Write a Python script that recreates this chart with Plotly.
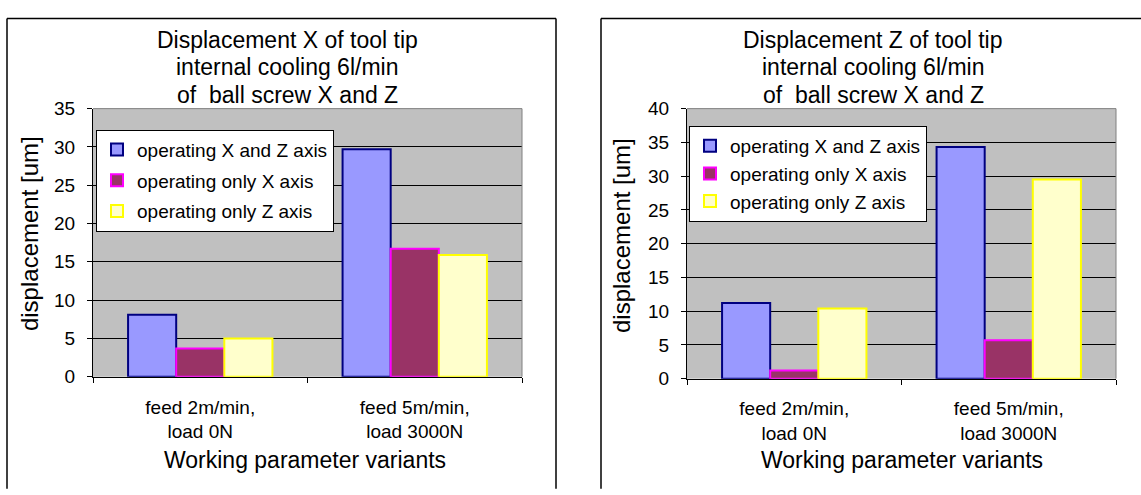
import plotly.graph_objects as go

categories = ["feed 2m/min,<br>load 0N", "feed 5m/min,<br>load 3000N"]
series_names = ["operating X and Z axis", "operating only X axis", "operating only Z axis"]
disp_x_both = [8.1, 29.7]
disp_x_only_x = [3.7, 16.7]
disp_x_only_z = [5.0, 15.9]
disp_z_both = [11.2, 34.3]
disp_z_only_x = [1.2, 5.7]
disp_z_only_z = [10.4, 29.5]
fills = ["#9999FF", "#993366", "#FFFFCC"]
edges = ["#000080", "#FF00FF", "#FFFF00"]
title_left = ["Displacement X of tool tip", "internal cooling 6l/min", "of\u00a0 ball screw X and Z"]
title_right = ["Displacement Z of tool tip", "internal cooling 6l/min", "of\u00a0 ball screw X and Z"]

W, H = 1141, 495
FONT = "Liberation Sans, Arial, sans-serif"

def px(x):
    return x / W

def py(y):
    return (H - y) / H

fig = go.Figure()
left_vals = [disp_x_both, disp_x_only_x, disp_x_only_z]
right_vals = [disp_z_both, disp_z_only_x, disp_z_only_z]
for i in range(3):
    fig.add_trace(go.Bar(x=categories, y=left_vals[i], name=series_names[i],
                         marker=dict(color=fills[i], line=dict(color=edges[i], width=2)),
                         xaxis="x", yaxis="y", legend="legend", legendgroup="L%d" % i))
for i in range(3):
    fig.add_trace(go.Bar(x=categories, y=right_vals[i], name=series_names[i],
                         marker=dict(color=fills[i], line=dict(color=edges[i], width=2)),
                         xaxis="x2", yaxis="y2", legend="legend2", legendgroup="R%d" % i))

common_x = dict(type="category", showline=True, linecolor="black", linewidth=1,
                ticks="outside", tickson="boundaries", ticklen=5, tickcolor="black",
                ticklabelstandoff=13,
                showgrid=False, tickfont=dict(family=FONT, size=19, color="black"))
common_y = dict(showline=True, linecolor="black", linewidth=1, ticks="outside",
                ticklen=5, tickcolor="black", dtick=5, showgrid=True, gridcolor="black",
                gridwidth=1, zeroline=False, ticklabelstandoff=8,
                tickfont=dict(family=FONT, size=19, color="black"))

L = (93, 522, 103, 383)
R = (687, 1116, 103, 385)

fig.update_layout(
    width=W, height=H, autosize=False,
    margin=dict(l=0, r=0, t=0, b=0),
    paper_bgcolor="white", plot_bgcolor="#C0C0C0",
    barmode="group", bargap=0.327, bargroupgap=0,
    font=dict(family=FONT, color="black"),
    xaxis=dict(domain=[px(L[0]), px(L[1])], anchor="y", **common_x),
    yaxis=dict(domain=[py(L[3]), py(L[2])], anchor="x", range=[0, 35], **common_y),
    xaxis2=dict(domain=[px(R[0]), px(R[1])], anchor="y2", **common_x),
    yaxis2=dict(domain=[py(R[3]), py(R[2])], anchor="x2", range=[0, 40], **common_y),
    legend=dict(x=px(96), y=py(125), xanchor="left", yanchor="top", bgcolor="white",
                bordercolor="black", borderwidth=1, tracegroupgap=3,
                font=dict(family=FONT, size=19, color="black"), itemsizing="constant"),
    legend2=dict(x=px(689), y=py(121), xanchor="left", yanchor="top", bgcolor="white",
                 bordercolor="black", borderwidth=1, tracegroupgap=0,
                 font=dict(family=FONT, size=19, color="black"), itemsizing="constant"),
)

shapes = []
for xr, yr in [("x domain", "y domain"), ("x2 domain", "y2 domain")]:
    shapes.append(dict(type="line", xref=xr, yref=yr, x0=0, x1=1, y0=1, y1=1,
                       line=dict(color="#808080", width=1), layer="above"))
    shapes.append(dict(type="line", xref=xr, yref=yr, x0=1, x1=1, y0=0, y1=1,
                       line=dict(color="#808080", width=1), layer="above"))
for x0, x1 in [(7, 556), (601, 1150)]:
    shapes.append(dict(type="line", xref="paper", yref="paper", x0=px(x0), x1=px(x1), y0=py(9), y1=py(9),
                       line=dict(color="black", width=1.5)))
    shapes.append(dict(type="line", xref="paper", yref="paper", x0=px(x0), x1=px(x0), y0=py(9), y1=py(500),
                       line=dict(color="black", width=1.5)))
    shapes.append(dict(type="line", xref="paper", yref="paper", x0=px(x1), x1=px(x1), y0=py(9), y1=py(500),
                       line=dict(color="black", width=1.5)))
fig.update_layout(shapes=shapes)

ann = []
for cx, lines in [(287, title_left), (873, title_right)]:
    for k, t in enumerate(lines):
        ann.append(dict(text=t, x=px(cx), y=py(31 + 29 * k), xref="paper", yref="paper",
                        showarrow=False, xanchor="center", yanchor="middle",
                        font=dict(family=FONT, size=23, color="black")))
for cx, cy in [(29, 234), (622, 236)]:
    ann.append(dict(text="displacement [um]", x=px(cx), y=py(cy), xref="paper", yref="paper",
                    showarrow=False, textangle=-90, xanchor="center", yanchor="middle",
                    font=dict(family=FONT, size=24, color="black")))
for cx in [305, 902]:
    ann.append(dict(text="Working parameter variants", x=px(cx), y=py(470), xref="paper", yref="paper",
                    showarrow=False, xanchor="center", yanchor="middle",
                    font=dict(family=FONT, size=23, color="black")))
fig.update_layout(annotations=ann)

fig.write_html("out.html")
